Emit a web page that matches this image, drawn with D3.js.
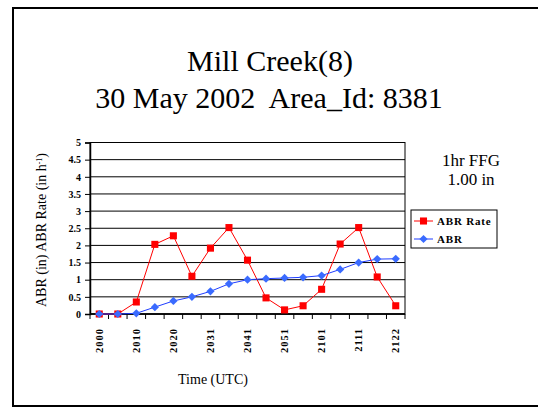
<!DOCTYPE html>
<html>
<head>
<meta charset="utf-8">
<script src="https://cdn.jsdelivr.net/npm/d3@7"></script>
<style>
  body { margin: 0; background: #fff; }
  svg { display: block; font-family: "Liberation Serif", "Times New Roman", serif; }
</style>
</head>
<body>
<svg id="chart" width="538" height="407"></svg>
<script>
const times = ["2000", "2005", "2010", "2015", "2020", "2025", "2031", "2036", "2041",
  "2046", "2051", "2056", "2101", "2106", "2111", "2116", "2122"];
const abrRate = [0, 0, 0.35, 2.03, 2.28, 1.1, 1.92, 2.52, 1.57, 0.47, 0.12, 0.24, 0.72, 2.04, 2.52, 1.08, 0.24];
const abr = [0, 0, 0.02, 0.2, 0.38, 0.5, 0.66, 0.88, 1.0, 1.03, 1.05, 1.07, 1.12, 1.3, 1.5, 1.6, 1.61];
const yTicks = [0, 0.5, 1, 1.5, 2, 2.5, 3, 3.5, 4, 4.5, 5];
const labelledTimes = times.filter((d, i) => i % 2 === 0);

const svg = d3.select("#chart");

// outer frame (open on the right side)
svg.append("path")
  .attr("d", "M538,8 H13 V406 H538")
  .attr("fill", "none")
  .attr("stroke", "#000")
  .attr("stroke-width", 2);

// titles
svg.append("text")
  .attr("x", 270).attr("y", 71)
  .attr("text-anchor", "middle")
  .attr("font-size", 30)
  .text("Mill Creek(8)");
svg.append("text")
  .attr("x", 269).attr("y", 108)
  .attr("text-anchor", "middle")
  .attr("font-size", 30)
  .attr("xml:space", "preserve")
  .text("30 May 2002  Area_Id: 8381");

const plot = { left: 90, right: 405, top: 142.5, bottom: 314 };

const x = d3.scaleBand().domain(times).range([plot.left, plot.right]);
const y = d3.scaleLinear().domain([0, 5]).range([plot.bottom, plot.top]);
const cx = (d) => x(d) + x.bandwidth() / 2;

// gridlines
svg.append("g")
  .selectAll("line")
  .data(yTicks)
  .enter()
  .append("line")
  .attr("x1", plot.left).attr("x2", plot.right)
  .attr("y1", (d) => y(d)).attr("y2", (d) => y(d))
  .attr("stroke", "#000")
  .attr("stroke-width", 1);

// plot border
svg.append("rect")
  .attr("x", plot.left).attr("y", plot.top)
  .attr("width", plot.right - plot.left)
  .attr("height", plot.bottom - plot.top)
  .attr("fill", "none")
  .attr("stroke", "#000")
  .attr("stroke-width", 1);

// y axis
const yAxis = d3.axisLeft(y)
  .tickValues(yTicks)
  .tickSize(5)
  .tickPadding(4)
  .tickFormat(d3.format("~g"));
const yg = svg.append("g")
  .attr("transform", `translate(${plot.left},0)`)
  .call(yAxis);
yg.select(".domain").attr("stroke-width", 1.5);
yg.selectAll("text")
  .attr("font-family", "Liberation Serif, serif")
  .attr("font-weight", "bold")
  .attr("font-size", 10)
  .attr("fill", "#000");

// x axis: ticks on category boundaries
const xg = svg.append("g").attr("transform", `translate(0,${plot.bottom})`);
xg.append("line")
  .attr("x1", plot.left).attr("x2", plot.right)
  .attr("stroke", "#000").attr("stroke-width", 1.5);
xg.selectAll("line.tick")
  .data(times.concat(["end"]))
  .enter()
  .append("line")
  .attr("class", "tick")
  .attr("x1", (d, i) => plot.left + i * x.bandwidth())
  .attr("x2", (d, i) => plot.left + i * x.bandwidth())
  .attr("y1", 0).attr("y2", 5)
  .attr("stroke", "#000");
xg.selectAll("text")
  .data(labelledTimes)
  .enter()
  .append("text")
  .attr("transform", (d) => `translate(${cx(d) + 3.5},14) rotate(-90)`)
  .attr("text-anchor", "end")
  .attr("font-weight", "bold")
  .attr("font-size", 10.5)
  .attr("letter-spacing", 1)
  .text((d) => d);

// axis titles
svg.append("text")
  .attr("transform", "translate(46,230) rotate(-90)")
  .attr("text-anchor", "middle")
  .attr("font-size", 14)
  .html('ABR (in) ABR Rate (in h<tspan baseline-shift="super" font-size="8">-1</tspan>)');
svg.append("text")
  .attr("x", 213).attr("y", 384)
  .attr("text-anchor", "middle")
  .attr("font-size", 14)
  .text("Time (UTC)");

// series
const line = d3.line().x((d, i) => cx(times[i])).y((d) => y(d));

svg.append("path")
  .datum(abrRate)
  .attr("d", line)
  .attr("fill", "none")
  .attr("stroke", "#ff0000")
  .attr("stroke-width", 1);
svg.append("path")
  .datum(abr)
  .attr("d", line)
  .attr("fill", "none")
  .attr("stroke", "#1f3dff")
  .attr("stroke-width", 1);

const square = d3.symbol().type(d3.symbolSquare).size(50);
const diamond = d3.symbol().type(d3.symbolSquare).size(34);

svg.append("g")
  .selectAll("path")
  .data(abrRate)
  .enter()
  .append("path")
  .attr("transform", (d, i) => `translate(${cx(times[i])},${y(d)})`)
  .attr("d", square)
  .attr("fill", "#ff0000");
svg.append("g")
  .selectAll("path")
  .data(abr)
  .enter()
  .append("path")
  .attr("transform", (d, i) => `translate(${cx(times[i])},${y(d)}) rotate(45)`)
  .attr("d", diamond)
  .attr("fill", "#3a6bff");

// FFG note
svg.append("text")
  .attr("x", 471).attr("y", 166)
  .attr("text-anchor", "middle")
  .attr("font-size", 17)
  .text("1hr FFG");
svg.append("text")
  .attr("x", 471).attr("y", 185)
  .attr("text-anchor", "middle")
  .attr("font-size", 17)
  .text("1.00 in");

// legend
const legendItems = [
  { name: "ABR Rate", color: "#ff0000", mark: "#ff0000", sym: square, rot: 0 },
  { name: "ABR", color: "#1f3dff", mark: "#3a6bff", sym: diamond, rot: 45 }
];
const legend = svg.append("g").attr("transform", "translate(411,210)");
legend.append("rect")
  .attr("width", 86).attr("height", 38)
  .attr("fill", "#fff")
  .attr("stroke", "#000")
  .attr("stroke-width", 1);
const li = legend.selectAll("g.item")
  .data(legendItems)
  .enter()
  .append("g")
  .attr("class", "item")
  .attr("transform", (d, i) => `translate(0,${11 + i * 18})`);
li.append("line")
  .attr("x1", 3).attr("x2", 22)
  .attr("stroke", (d) => d.color);
li.append("path")
  .attr("transform", (d) => `translate(12.5,0) rotate(${d.rot})`)
  .attr("d", (d) => d.sym())
  .attr("fill", (d) => d.mark);
li.append("text")
  .attr("x", 26).attr("y", 4)
  .attr("font-weight", "bold")
  .attr("font-size", 11)
  .attr("letter-spacing", 0.8)
  .text((d) => d.name);
</script>
</body>
</html>
